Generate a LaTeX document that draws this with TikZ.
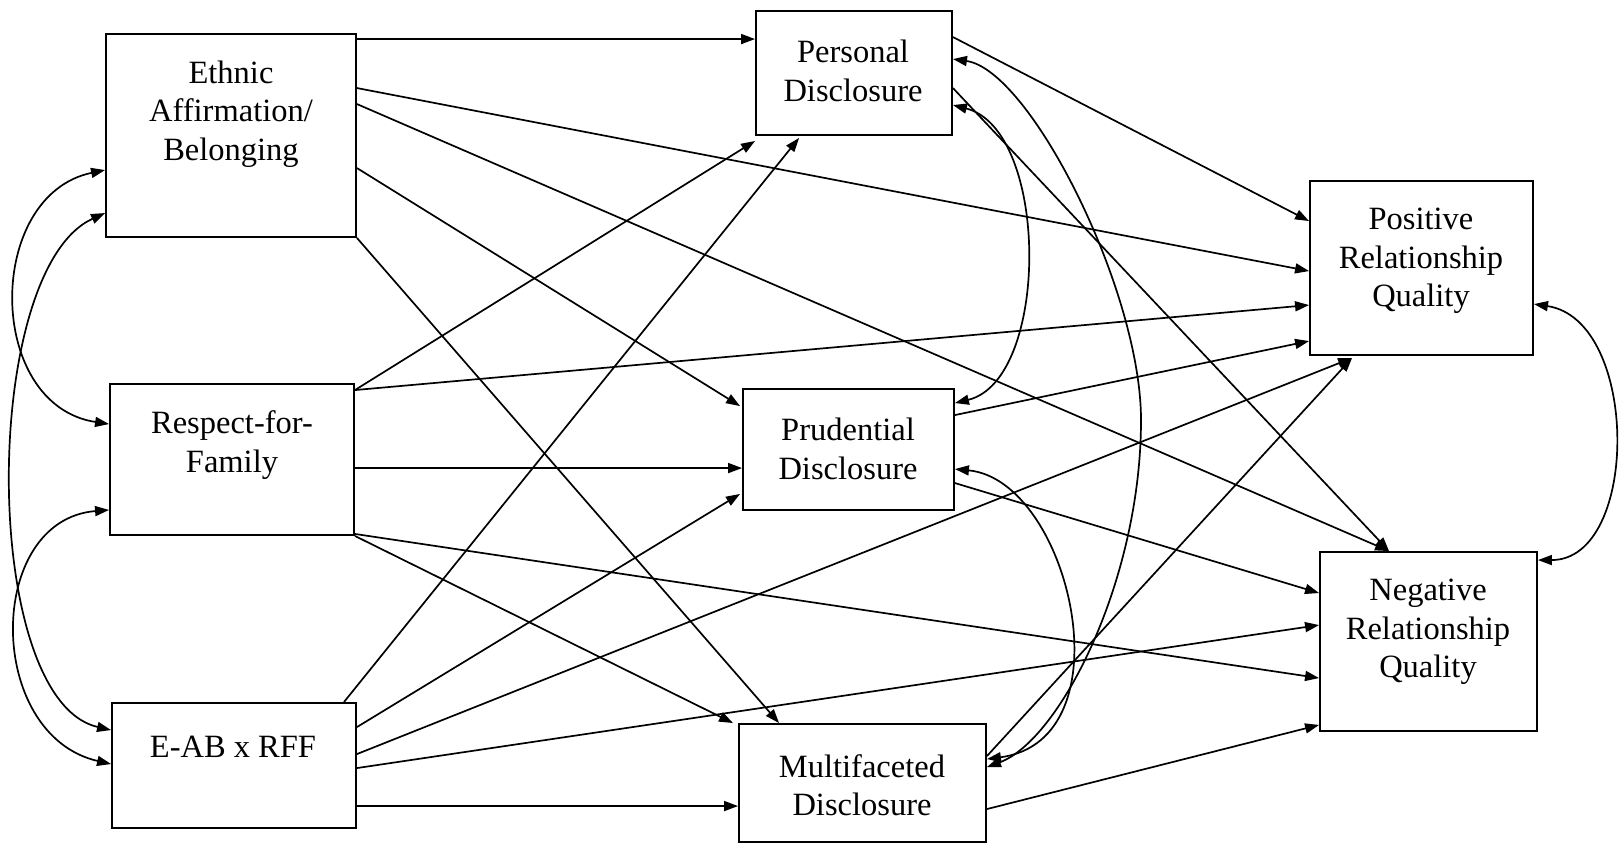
\documentclass[tikz,border=0pt]{standalone}
\usepackage{fontspec}
\setmainfont{Liberation Serif}
\usetikzlibrary{arrows.meta}
\begin{document}
\begin{tikzpicture}[x=1pt,y=-1pt,
  box/.style={draw, line width=1.9pt, rectangle, inner sep=0pt},
  lbl/.style={align=center, font=\fontsize{32.5}{38.5}\selectfont, inner sep=0pt},
  arr/.style={line width=1.7pt, -{Triangle[length=14pt,width=10pt]}},
  dbl/.style={line width=1.7pt, {Triangle[length=14pt,width=10pt]}-{Triangle[length=14pt,width=10pt]}}]
\useasboundingbox (0,0) rectangle (1619,844);

% predictors
\node[box, minimum width=250pt, minimum height=203pt] (eth) at (231,135.5) {};
\node[lbl] (eth-t) at (231,114) {Ethnic\\Affirmation/\\Belonging};
\node[box, minimum width=244pt, minimum height=151pt] (rff) at (232,459.5) {};
\node[lbl] (rff-t) at (232,445) {Respect-for-\\Family};
\node[box, minimum width=244pt, minimum height=125pt] (eab) at (234,765.5) {};
\node[lbl] (eab-t) at (233,747) {E-AB x RFF};

% disclosure mediators
\node[box, minimum width=196pt, minimum height=124pt] (per) at (854,73) {};
\node[lbl] (per-t) at (853,71) {Personal\\Disclosure};
\node[box, minimum width=211pt, minimum height=121pt] (pru) at (848.5,449.5) {};
\node[lbl] (pru-t) at (848,449) {Prudential\\Disclosure};
\node[box, minimum width=247pt, minimum height=118pt] (mul) at (862.5,783) {};
\node[lbl] (mul-t) at (862,785) {Multifaceted\\Disclosure};

% outcomes
\node[box, minimum width=223pt, minimum height=174pt] (pos) at (1421.5,268) {};
\node[lbl] (pos-t) at (1421,261) {Positive\\Relationship\\Quality};
\node[box, minimum width=217pt, minimum height=179pt] (neg) at (1428.5,641.5) {};
\node[lbl] (neg-t) at (1428,632) {Negative\\Relationship\\Quality};

% paths from Ethnic Affirmation/Belonging
\draw[arr] ([yshift=-6pt]eth.north east) -- ([yshift=-29pt]per.north west);
\draw[arr] ([yshift=-55pt]eth.north east) -- ([yshift=-91pt]pos.north west);
\draw[arr] ([yshift=-71pt]eth.north east) -- ([xshift=70pt]neg.north west);
\draw[arr] ([yshift=-135pt]eth.north east) -- ([yshift=-18pt,xshift=-2pt]pru.north west);
\draw[arr] (eth.south east) -- ([xshift=41pt]mul.north west);

% paths from Respect-for-Family
\draw[arr] ([yshift=-7pt]rff.north east) -- ([yshift=-5pt]per.south west);
\draw[arr] ([yshift=-7pt]rff.north east) -- ([yshift=-125pt]pos.north west);
\draw[arr] ([yshift=-85pt]rff.north east) -- ([yshift=-80pt]pru.north west);
\draw[arr] ([yshift=2pt]rff.south east) -- ([yshift=-127pt]neg.north west);
\draw[arr] (rff.south east) -- ([xshift=-5pt]mul.north west);

% paths from E-AB x RFF
\draw[arr] ([xshift=-13pt]eab.north east) -- ([xshift=44pt,yshift=-2pt]per.south west);
\draw[arr] ([yshift=-25pt]eab.north east) -- ([yshift=17pt,xshift=-2pt]pru.south west);
\draw[arr] ([yshift=-52pt]eab.north east) -- ([xshift=43pt,yshift=-2pt]pos.south west);
\draw[arr] ([yshift=-66pt]eab.north east) -- ([yshift=-74pt]neg.north west);
\draw[arr] ([yshift=-104pt]eab.north east) -- ([yshift=-83pt]mul.north west);

% paths from the disclosure mediators
\draw[arr] ([yshift=-27pt]per.north east) -- ([yshift=-41pt]pos.north west);
\draw[arr] ([yshift=-78pt]per.north east) -- ([xshift=70pt]neg.north west);
\draw[arr] ([yshift=-27pt]pru.north east) -- ([yshift=-161pt]pos.north west);
\draw[arr] ([yshift=-95pt]pru.north east) -- ([yshift=-42pt]neg.north west);
\draw[arr] ([yshift=-33pt]mul.north east) -- ([xshift=43pt,yshift=-2pt]pos.south west);
\draw[arr] ([yshift=-86pt]mul.north east) -- ([yshift=7pt]neg.south west);

% covariances among predictors
\draw[dbl] ([yshift=-137pt]eth.north west) .. controls (-15,195) and (-15,405) .. ([yshift=-41pt]rff.north west);
\draw[dbl] ([yshift=-180pt]eth.north west) .. controls (-20,270) and (-20,700) .. ([yshift=-28pt]eab.north west);
\draw[dbl] ([yshift=26pt]rff.south west) .. controls (-15,520) and (-15,735) .. ([yshift=-62pt]eab.north west);

% covariances among mediators
\draw[dbl] ([yshift=-49pt]per.north east) .. controls (1030,70) and (1141,290) .. (1141,420)
  .. controls (1141,580) and (1060,740) .. ([yshift=-44pt]mul.north east);
\draw[dbl] ([yshift=-95pt]per.north east) .. controls (1050,130) and (1050,380) .. ([yshift=-15pt]pru.north east);
\draw[dbl] ([yshift=-81pt]pru.north east) .. controls (1070,480) and (1130,740) .. ([yshift=-36pt]mul.north east);

% covariance among outcomes
\draw[dbl] ([yshift=-124pt]pos.north east) .. controls (1640,320) and (1640,560) .. ([yshift=-9pt]neg.north east);
\end{tikzpicture}
\end{document}
